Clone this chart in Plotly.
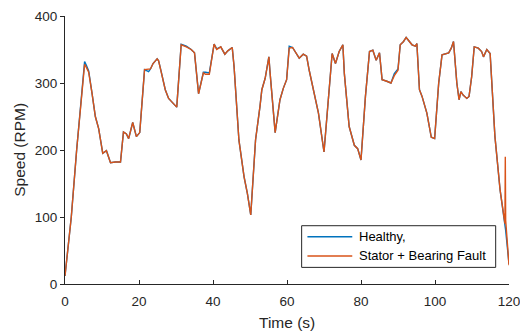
import plotly.graph_objects as go

# Measured rotor speed over a 120 s drive cycle
time_s = [
    0, 1.7, 3.15, 5.3, 5.8, 6.4, 7.3, 8.2, 9.1, 10.2, 11.2, 12.3, 13.6, 15.0,
    15.8, 16.6, 17.2, 18.3, 19.3, 20.2, 21.5, 22.6, 23.1, 23.8, 24.9, 25.3,
    26.0, 27.1, 28.0, 28.9, 30.2, 31.4, 32.8, 34.1, 35.0, 36.1, 37.4, 38.0,
    39.0, 40.3, 41.0, 42.1, 43.2, 44.0, 45.2, 45.7, 47.0, 48.4, 49.3, 50.2,
    51.5, 52.7, 53.2, 54.1, 54.7, 55.1, 55.4, 56.8, 58.1, 59.0, 59.9, 60.6,
    61.5, 62.4, 63.3, 64.4, 65.3, 66.0, 67.1, 68.5, 70.0, 71.4, 72.2, 73.1,
    74.1, 75.1, 75.5, 76.8, 78.2, 79.1, 80.0, 81.2, 82.3, 83.2, 84.1, 85.0,
    85.7, 86.8, 88.1, 89.0, 90.0, 90.6, 91.5, 92.2, 92.8, 93.8, 94.7, 95.1,
    95.8, 96.5, 97.8, 99.0, 99.9, 101.0, 101.9, 102.8, 103.7, 104.4, 105.0,
    105.9, 106.5, 107.0, 107.6, 108.6, 109.2, 109.9, 110.6, 111.7, 112.6,
    113.1, 114.0, 114.9, 116.2, 117.6, 118.5, 118.9, 119.0, 119.1, 120.0,
]

healthy_rpm = [
    12, 100, 200, 332, 326, 318, 285, 250, 232, 195, 199, 181, 182, 182,
    227, 224, 217, 241, 220, 226, 320, 317, 321, 329, 336, 333,
    317, 290, 277, 272, 264, 358, 355, 350, 345, 284, 316, 316,
    315, 358, 351, 354, 343, 348, 353, 324, 215, 160, 135, 103,
    215, 265, 290, 307, 329, 339, 317, 226, 275, 292, 305, 355,
    353, 345, 337, 343, 340, 319, 292, 255, 197, 285, 344, 329,
    347, 357, 314, 235, 207, 202, 185, 280, 347, 349, 334, 345,
    305, 303, 300, 314, 321, 357, 362, 368, 364, 357, 355, 359,
    290, 280, 255, 219, 217, 300, 342, 343, 345, 352, 362,
    300, 275, 287, 282, 277, 280, 309, 354, 352, 347,
    339, 350, 344, 220, 140, 100, 90, 85, 80, 30,
]

fault_rpm = [
    12, 100, 200, 328, 323, 316, 285, 250, 232, 195, 199, 181, 182, 182,
    227, 224, 217, 241, 220, 226, 320, 320, 321, 329, 336, 333,
    317, 290, 277, 272, 264, 357, 354, 350, 345, 284, 315, 313,
    313, 358, 350, 354, 343, 348, 353, 324, 215, 160, 135, 103,
    215, 265, 290, 307, 329, 339, 317, 226, 275, 292, 305, 352,
    353, 345, 337, 343, 340, 319, 292, 255, 197, 285, 344, 329,
    347, 357, 314, 235, 207, 202, 185, 280, 347, 349, 334, 345,
    305, 303, 300, 311, 319, 357, 362, 368, 364, 357, 355, 359,
    290, 280, 255, 219, 217, 300, 342, 343, 345, 352, 362,
    300, 275, 287, 282, 277, 280, 309, 354, 352, 347,
    339, 350, 344, 220, 140, 100, 90, 190, 95, 28,
]

series_names = ["Healthy,", "Stator + Bearing Fault"]
series_colors = ["#0072BD", "#D95319"]

x_ticks = [0, 20, 40, 60, 80, 100, 120]
y_ticks = [0, 100, 200, 300, 400]

FONT = "Liberation Sans, Arial, Helvetica, sans-serif"
INK = "#262626"

fig = go.Figure()
for name, color, values in zip(series_names, series_colors, [healthy_rpm, fault_rpm]):
    fig.add_trace(go.Scatter(
        x=time_s, y=values, mode="lines", name=name,
        line=dict(color=color, width=1.4), showlegend=False,
    ))

# Boxed key in the lower right of the axes (paper coordinates)
key_box = dict(x0=0.533, x1=0.970, y0=0.062, y1=0.2175)
key_rows_y = [0.1765, 0.1045]
key_line_x = (0.546, 0.647)
key_text_x = 0.657

shapes = [dict(type="rect", xref="paper", yref="paper", **key_box,
               line=dict(color=INK, width=1), fillcolor="white", layer="above")]
annotations = []
for name, color, ky in zip(series_names, series_colors, key_rows_y):
    shapes.append(dict(type="line", xref="paper", yref="paper",
                       x0=key_line_x[0], x1=key_line_x[1], y0=ky, y1=ky,
                       line=dict(color=color, width=1.5), layer="above"))
    annotations.append(dict(text=name, xref="paper", yref="paper", x=key_text_x, y=ky,
                            xanchor="left", yanchor="middle", showarrow=False,
                            font=dict(family=FONT, size=13, color="black")))

annotations += [
    dict(text="Time (s)", xref="paper", yref="paper", x=0.5, y=-0.144,
         xanchor="center", yanchor="middle", showarrow=False,
         font=dict(family=FONT, size=15.5, color=INK)),
    dict(text="Speed (RPM)", xref="paper", yref="paper", x=-0.104, y=0.5,
         xanchor="center", yanchor="middle", showarrow=False, textangle=-90,
         font=dict(family=FONT, size=15.5, color=INK)),
]

fig.update_layout(
    width=520, height=331,
    margin=dict(l=65, r=11, t=16, b=47, autoexpand=False),
    paper_bgcolor="white", plot_bgcolor="white",
    font=dict(family=FONT, color=INK, size=13.5),
    showlegend=False,
    shapes=shapes,
    annotations=annotations,
)

fig.update_xaxes(
    range=[0, 120.001], tickvals=x_ticks, ticktext=[str(v) for v in x_ticks],
    showgrid=False, zeroline=False, showline=True, linecolor=INK, linewidth=1,
    ticks="inside", ticklen=4, tickcolor=INK, tickwidth=1,
    ticklabelstandoff=5, ticklabeloverflow="allow", automargin=False,
    tickfont=dict(family=FONT, size=13.5, color=INK),
)
fig.update_yaxes(
    range=[0, 400], tickvals=y_ticks, ticktext=[str(v) for v in y_ticks],
    showgrid=False, zeroline=False, showline=True, linecolor=INK, linewidth=1,
    ticks="outside", ticklen=4, tickcolor=INK, tickwidth=1, automargin=False,
    tickfont=dict(family=FONT, size=13.5, color=INK),
)

fig.write_html("out.html")
